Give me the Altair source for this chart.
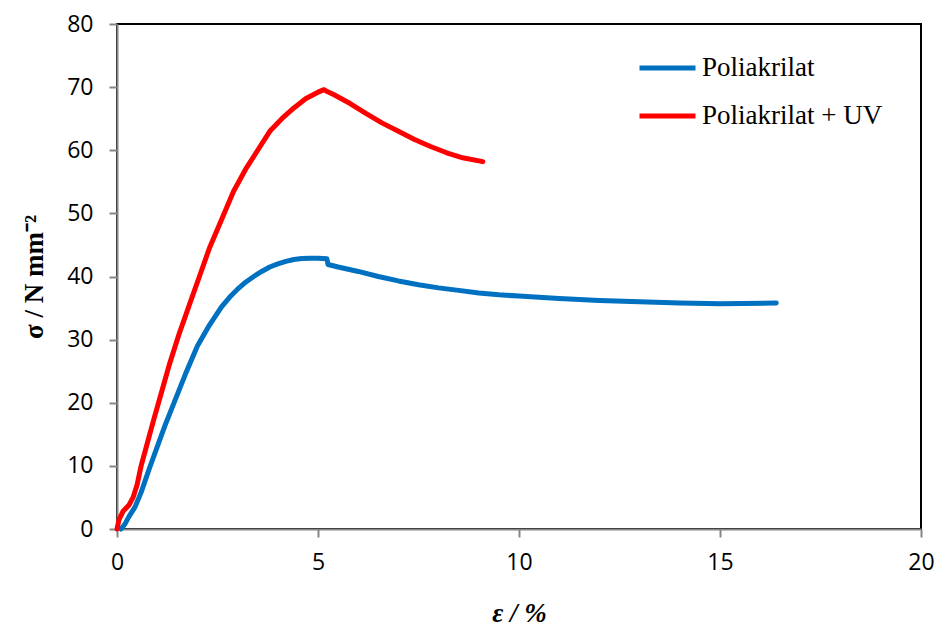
import altair as alt
import pandas as pd

# Poliakrilat (blue)
blue_x = [0.1, 0.2, 0.3, 0.45, 0.6, 0.8, 1.0, 1.2, 1.45, 1.7, 2.0, 2.3, 2.6, 2.8, 3.0, 3.2,
          3.4, 3.6, 3.8, 4.0, 4.2, 4.4, 4.6, 4.8, 5.0, 5.22, 5.25, 5.5, 6.0, 6.5, 7.0, 7.5,
          8.0, 8.5, 9.0, 9.5, 10.0, 11.0, 12.0, 13.0, 14.0, 15.0, 16.4]
blue_y = [0.0, 0.8, 2.0, 3.5, 5.8, 9.5, 13.0, 16.5, 20.5, 24.5, 29.0, 32.3, 35.2, 36.7, 38.0,
          39.1, 40.0, 40.8, 41.5, 42.0, 42.4, 42.7, 42.85, 42.9, 42.9, 42.8, 41.9, 41.5, 40.8,
          40.0, 39.3, 38.7, 38.2, 37.8, 37.4, 37.1, 36.9, 36.5, 36.2, 36.0, 35.8, 35.7, 35.8]

# Poliakrilat + UV (red)
red_x = [0.0, 0.05, 0.15, 0.3, 0.4, 0.5, 0.6, 0.75, 0.9, 1.1, 1.3, 1.55, 1.8, 2.05, 2.3, 2.6,
         2.9, 3.2, 3.5, 3.8, 4.1, 4.4, 4.7, 5.0, 5.15, 5.2, 5.4, 5.8, 6.2, 6.6, 7.0, 7.4, 7.8,
         8.2, 8.6, 9.1]
red_y = [0.0, 1.5, 2.8, 3.8, 5.0, 7.0, 10.0, 13.5, 17.0, 21.5, 26.0, 31.0, 35.5, 40.0, 44.5,
         49.0, 53.5, 57.0, 60.0, 63.0, 65.0, 66.7, 68.2, 69.2, 69.6, 69.4, 68.8, 67.4, 65.8,
         64.3, 63.0, 61.7, 60.6, 59.6, 58.8, 58.2]

series_names = ["Poliakrilat", "Poliakrilat + UV"]
series_colors = ["#0070C0", "#FF0000"]
x_ticks = [0, 5, 10, 15, 20]
y_ticks = [0, 10, 20, 30, 40, 50, 60, 70, 80]

rows = []
for i, (x, y) in enumerate(zip(blue_x, blue_y)):
    rows.append({"eps": x, "sigma": y, "series": series_names[0], "idx": i})
for i, (x, y) in enumerate(zip(red_x, red_y)):
    rows.append({"eps": x, "sigma": y, "series": series_names[1], "idx": i})
df = pd.DataFrame(rows)

chart = alt.Chart(df).mark_line(strokeWidth=5, strokeCap="round", strokeJoin="round").encode(
    x=alt.X("eps:Q", scale=alt.Scale(domain=[0, 20], nice=False),
            axis=alt.Axis(values=x_ticks, title="ε / %", titlePadding=26, labelPadding=14,
                          labelFlush=False, titleFontStyle="italic")),
    y=alt.Y("sigma:Q", scale=alt.Scale(domain=[0, 80], nice=False),
            axis=alt.Axis(values=y_ticks, title="σ / N mm⁻²", titlePadding=18, labelPadding=16,
                          labelFlush=False)),
    color=alt.Color("series:N", scale=alt.Scale(domain=series_names, range=series_colors),
                    legend=alt.Legend(title=None, orient="none", legendX=520, legendY=20,
                                      symbolType="stroke", symbolSize=3136, symbolStrokeWidth=5,
                                      labelFont="Liberation Serif", labelFontSize=27,
                                      labelColor="black", labelOffset=4, rowPadding=0,
                                      clipHeight=48, labelLimit=400)),
    order="idx:Q",
    detail="series:N",
).properties(
    width=804, height=505,
    autosize=alt.AutoSizeParams(type="none"),
    padding={"left": 117, "top": 24, "right": 17, "bottom": 97},
).configure_view(
    stroke="black", strokeWidth=2
).configure_axis(
    grid=False,
    domainColor="#868686", domainWidth=2,
    tickColor="#868686", tickWidth=2, tickSize=8,
    labelFont="Open Sans", labelFontSize=23, labelColor="black",
    titleFont="Liberation Serif", titleFontSize=27, titleFontWeight="bold", titleColor="black",
)

chart.save("out.html", embed_options={"renderer": "svg", "actions": False})
